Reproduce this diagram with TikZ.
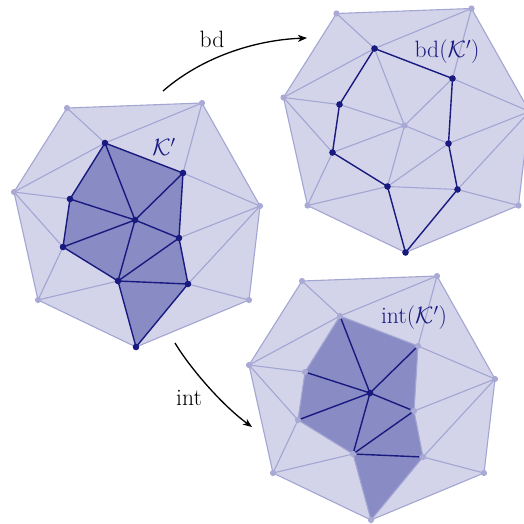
\documentclass[tikz,border=0pt]{standalone}
\usepackage{fontspec}
\usepackage{graphicx}
\usetikzlibrary{arrows.meta}
\definecolor{lfill}{RGB}{211,212,233}
\definecolor{ledge}{RGB}{163,165,210}
\definecolor{ldotc}{RGB}{168,170,213}
\definecolor{dfill}{RGB}{137,139,196}
\definecolor{dedge}{RGB}{24,26,128}
\newcommand\lbl[1]{\scalebox{1.14}{#1}}
\newcommand\mkverts{%
  \coordinate (O1) at (67,108);
  \coordinate (O2) at (202,103);
  \coordinate (O3) at (260,206);
  \coordinate (O4) at (249,300);
  \coordinate (O6) at (38,300);
  \coordinate (O7) at (14,192);
  \coordinate (A) at (105,143);
  \coordinate (B) at (183,173);
  \coordinate (C) at (70,199);
  \coordinate (D) at (135,220);
  \coordinate (E) at (179,238);
  \coordinate (F) at (63,247);
  \coordinate (G) at (118,281);
  \coordinate (H) at (188,284);
  \coordinate (I) at (136,347);
}
\newcommand\hullfill{\fill[lfill] (O1)--(O2)--(O3)--(O4)--(I)--(O6)--(O7)--cycle;}
\newcommand\kfill{\fill[dfill] (A)--(B)--(E)--(H)--(I)--(G)--(F)--(C)--cycle;}
\newcommand\lightnet{%
  \draw[lightedge] (O1)--(O2)--(O3)--(O4)--(I)--(O6)--(O7)--cycle;
  \draw[lightedge] (O1)--(A) (O2)--(A) (O2)--(B) (O7)--(A) (O7)--(C) (O7)--(F)
    (O6)--(F) (O6)--(G) (O3)--(B) (O3)--(E) (O3)--(H) (O4)--(H);
}
\newcommand\outerdots{\foreach \v in {O1,O2,O3,O4,O6,O7} \fill[ldotc] (\v) circle (3.1pt);}
\tikzset{
  lightedge/.style={draw=ledge,line width=1.1pt,line join=round},
  darkedge/.style={draw=dedge,line width=1.4pt,line join=round},
  maparrow/.style={draw=black,line width=1.3pt,-{Stealth[length=9pt,width=7pt,inset=2.5pt]}},
  lab/.style={font=\huge,inner sep=0pt},
}
\begin{document}
\begin{tikzpicture}[x=1pt,y=-1pt]
\useasboundingbox (0,0) rectangle (524,523);
\clip (0,0) rectangle (524,523);
% ---- K' (left)
\begin{scope}[name prefix=k-]
  \mkverts
  \hullfill
  \kfill
  \lightnet
  \draw[darkedge] (A)--(B)--(E)--(H)--(I)--(G)--(F)--(C)--cycle;
  \draw[darkedge] (A)--(D) (B)--(D) (C)--(D) (F)--(D) (G)--(D) (E)--(D) (G)--(E) (G)--(H);
  \outerdots
  \foreach \v in {A,B,C,D,E,F,G,H,I} \fill[dedge] (\v) circle (3.3pt);
  \node[lab,text=dedge] (kl) at (164,147) {\lbl{$\mathcal{K}'$}};
\end{scope}
% ---- bd (top right)
\begin{scope}[name prefix=b-,shift={(269.5,-94.5)}]
  \mkverts
  \hullfill
  \lightnet
  \draw[lightedge] (A)--(D) (B)--(D) (C)--(D) (F)--(D) (G)--(D) (E)--(D) (G)--(E) (G)--(H);
  \draw[darkedge] (A)--(B)--(E)--(H)--(I)--(G)--(F)--(C)--cycle;
  \outerdots
  \fill[ldotc] (D) circle (3.1pt);
  \foreach \v in {A,B,C,E,F,G,H,I} \fill[dedge] (\v) circle (3.3pt);
  \node[lab,text=dedge] (bl) at (177.5,146.5) {\lbl{bd$(\mathcal{K}')$}};
\end{scope}
% ---- int (bottom right)
\begin{scope}[name prefix=i-,shift={(235,173)}]
  \mkverts
  \hullfill
  \kfill
  \lightnet
  \draw[lightedge] (A)--(B)--(E)--(H)--(I)--(G)--(F)--(C)--cycle;
  \draw[darkedge,shorten >=4pt] (D)--(A) (D)--(B) (D)--(C) (D)--(F) (D)--(G) (D)--(E);
  \draw[darkedge,shorten >=4pt,shorten <=4pt] (G)--(E) (G)--(H);
  \outerdots
  \foreach \v in {A,B,C,E,F,G,H,I} \fill[ldotc] (\v) circle (3.1pt);
  \fill[dedge] (D) circle (3.3pt);
  \node[lab,text=dedge] (il) at (179,145) {\lbl{int$(\mathcal{K}')$}};
\end{scope}
% ---- arrows
\coordinate (s1) at (163,91);
\coordinate (t1) at (307,38);
\draw[maparrow] (s1) .. controls (202,57) and (255,40) .. (t1);
\node[lab] (bdl) at (212,39) {\lbl{bd}};
\coordinate (s2) at (175,343);
\coordinate (t2) at (252,427);
\draw[maparrow] (s2) .. controls (190,368) and (222,405) .. (t2);
\node[lab] (intl) at (189,398) {\lbl{int}};
\end{tikzpicture}
\end{document}
